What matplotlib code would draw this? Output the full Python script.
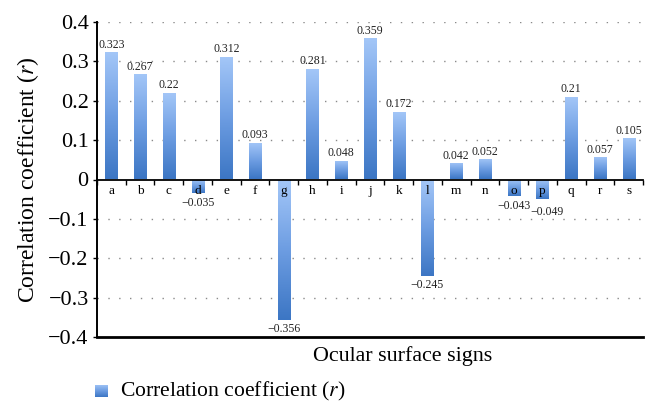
import matplotlib.pyplot as plt
import numpy as np
from matplotlib.colors import LinearSegmentedColormap

plt.rcParams['font.family'] = ['Liberation Serif', 'DejaVu Serif']
plt.rcParams['mathtext.fontset'] = 'stix'

signs = list("abcdefghijklmnopqrs")
r_values = [0.323, 0.267, 0.22, -0.035, 0.312, 0.093, -0.356, 0.281, 0.048, 0.359,
            0.172, -0.245, 0.042, 0.052, -0.043, -0.049, 0.21, 0.057, 0.105]
yticks = [-0.4, -0.3, -0.2, -0.1, 0, 0.1, 0.2, 0.3, 0.4]
ytick_labels = ["−0.4", "−0.3", "−0.2", "−0.1", "0", "0.1", "0.2", "0.3", "0.4"]

cmap = LinearSegmentedColormap.from_list("barblue", ["#3c76c4", "#6d9de2", "#a4c7f8"])
grad = np.linspace(0, 1, 128).reshape(-1, 1)

fig = plt.figure(figsize=(6.58, 4.16), dpi=100)
ax = fig.add_axes([97/658, 1-337/416, (643-97)/658, (337-22)/416])
ax.set_axisbelow(False)

x = np.arange(len(signs))
bars = ax.bar(x, r_values, width=0.42, color='none', edgecolor='none', zorder=2)
for i, (b, v) in enumerate(zip(bars, r_values)):
    x0 = b.get_x()
    im = ax.imshow(grad, extent=[x0, x0 + b.get_width(), min(0, v), max(0, v)],
                   aspect='auto', cmap=cmap, origin='lower', zorder=2)
    im.set_clip_path(b)
    lab = f"{v:g}".replace("-", "−")
    xc = b.get_x() + b.get_width()/2
    if v >= 0:
        ax.annotate(lab, (xc, v), xytext=(0, 1), textcoords='offset points', ha='center',
                    va='bottom', fontsize=8.5, color='#222222', zorder=4)
    else:
        # the last small negative label sits a bit lower/right in the original
        off = (3, -5.5) if i == 15 else (0, -2.5)
        ax.annotate(lab, (xc, v), xytext=off, textcoords='offset points', ha='center',
                    va='top', fontsize=8.5, color='#222222', zorder=4)

ax.set_xlim(-0.5, len(signs) - 0.5)
ax.set_ylim(-0.4, 0.4)
ax.set_aspect('auto')

# dotted horizontal grid
for yv in yticks:
    if yv not in (0, -0.4):
        ax.axhline(yv, color='#8a8a8a', lw=1.0, linestyle=(0, (1, 6.8)), zorder=1)

ax.spines['top'].set_visible(False)
ax.spines['right'].set_visible(False)
ax.spines['bottom'].set_position(('data', 0))
ax.spines['bottom'].set_linewidth(1.3)
ax.spines['left'].set_linewidth(1.4)
ax.axhline(-0.4, color='black', lw=2.0, clip_on=False, zorder=3)

ax.set_xticks(x)
ax.set_xticklabels(signs, fontsize=9.5)
ax.set_xticks(np.arange(len(signs) + 1) - 0.5, minor=True)
ax.tick_params(axis='x', which='major', length=0, pad=4)
ax.tick_params(axis='x', which='minor', length=3.5, width=1.0, direction='out')
ax.set_yticks(yticks)
ax.set_yticklabels(ytick_labels, fontsize=16)
ax.tick_params(axis='y', length=3, width=1.0, direction='out', pad=3)

fig.text(28/658, 1-180/416, "Correlation coefficient ($r$)", rotation=90,
         ha='center', va='center', fontsize=17)
fig.text(403/658, 1-356/416, "Ocular surface signs", ha='center', va='center', fontsize=15.8)

# legend
lax = fig.add_axes([95/658, 1-397/416, 13/658, 12/416])
lax.imshow(grad, aspect='auto', cmap=cmap, origin='lower')
lax.axis('off')
fig.text(120/658, 1-391/416, "Correlation coefficient ($r$)", ha='left', va='center',
         fontsize=15.6)

fig.savefig("out.png", dpi=100)
